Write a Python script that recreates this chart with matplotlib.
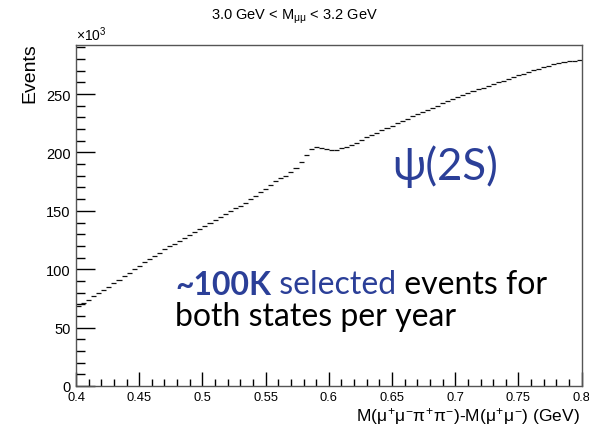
import numpy as np
import matplotlib
matplotlib.use("Agg")
import matplotlib.pyplot as plt
from matplotlib.ticker import MultipleLocator, FuncFormatter

plt.rcParams['font.family'] = ['Liberation Sans', 'DejaVu Sans']
plt.rcParams['mathtext.fontset'] = 'custom'
plt.rcParams['mathtext.rm'] = 'Liberation Sans'
plt.rcParams['mathtext.it'] = 'Liberation Sans'
plt.rcParams['mathtext.bf'] = 'Liberation Sans:bold'

# Histogram: M(mu mu pi pi) - M(mu mu), 100 bins from 0.40 to 0.80 GeV
bin_lo = 0.40
bin_hi = 0.80
n_bins = 100

# Events per bin, in units of 10^3
events_k = [
    68.5, 71.0, 74.0, 77.0, 79.5, 82.0, 85.0, 88.0, 91.0, 94.0,
    97.0, 100.0, 103.0, 106.0, 108.5, 111.0, 114.0, 117.0, 119.5, 122.0,
    124.5, 127.0, 129.5, 132.0, 134.5, 137.0, 139.5, 142.0, 144.5, 147.0,
    149.5, 152.0, 154.5, 157.0, 160.0, 163.0, 166.0, 169.0, 172.0, 175.5,
    178.0, 180.0, 183.0, 187.0, 192.0, 198.0, 203.0, 205.0, 204.0, 203.0,
    202.0, 202.5, 203.5, 205.0, 206.5, 208.5, 211.0, 213.0, 215.0, 217.0,
    219.0, 221.0, 223.0, 225.0, 227.0, 229.0, 231.0, 232.5, 234.5, 236.5,
    238.0, 240.0, 242.0, 244.0, 245.5, 247.5, 249.0, 251.0, 252.5, 254.0,
    255.5, 257.0, 258.5, 260.0, 261.5, 263.0, 264.5, 266.0, 267.5, 269.0,
    270.5, 271.5, 273.0, 274.0, 275.5, 276.5, 277.5, 278.0, 278.5, 279.5,
]

title_text = r"3.0 GeV < M$_{\mu\mu}$ < 3.2 GeV"
xlabel_text = r"M($\mu^{+}\mu^{-}\pi^{+}\pi^{-}$)-M($\mu^{+}\mu^{-}$) (GeV)"
ylabel_text = "Events"

edges = np.linspace(bin_lo, bin_hi, n_bins + 1)
vals = np.array(events_k)

fig = plt.figure(figsize=(5.89, 4.31), dpi=100)
ax = fig.add_axes([76 / 589, 1 - 387 / 431, (581.7 - 76) / 589, (387 - 46) / 431])

ax.hlines(vals, edges[:-1], edges[1:], colors='#111111', lw=0.9)

ax.set_xlim(bin_lo, bin_hi)
ax.set_ylim(0, 292)

ax.xaxis.set_major_locator(MultipleLocator(0.05))
ax.xaxis.set_minor_locator(MultipleLocator(0.01))
ax.yaxis.set_major_locator(MultipleLocator(50))
ax.yaxis.set_minor_locator(MultipleLocator(10))
ax.xaxis.set_major_formatter(FuncFormatter(lambda v, p: f"{v:g}"))
ax.yaxis.set_major_formatter(FuncFormatter(lambda v, p: f"{v:g}"))

ax.tick_params(axis='x', which='major', direction='in', length=10, width=1, pad=3.5, labelsize=9.3, top=False)
ax.tick_params(axis='x', which='minor', direction='in', length=5, width=1, top=False)
ax.tick_params(axis='y', which='major', direction='in', length=14, width=1, pad=4, labelsize=10.5, right=False)
ax.tick_params(axis='y', which='minor', direction='in', length=6.5, width=1, right=False)

for s in ax.spines.values():
    s.set_color('#555555')
    s.set_linewidth(1.0)

fig.text(0.5, 1 - 17 / 431, title_text, ha='center', va='center', fontsize=10.5)
fig.text(580 / 589, 1 - 421 / 431, xlabel_text, ha='right', va='baseline', fontsize=12.5)
fig.text(30 / 589, 1 - 43 / 431, ylabel_text, ha='center', va='top', rotation=90, fontsize=14)
fig.text(76 / 589, 1 - 44 / 431, r"$\times$10$^{3}$", ha='left', va='bottom', fontsize=10)

blue = '#2b3f98'
fig.text(392 / 589, 1 - 180 / 431, "ψ(2S)", ha='left', va='baseline', fontsize=31.5,
         color=blue, family=['Lato', 'DejaVu Sans'])

t1 = fig.text(175 / 589, 1 - 295 / 431, "~100K", ha='left', va='baseline', fontsize=23,
              color=blue, family='Lato', weight='bold')
t2 = ax.annotate(" selected", xy=(1, 0), xycoords=t1, ha='left', va='bottom',
                 fontsize=23, color=blue, family='Lato')
t3 = ax.annotate(" events for", xy=(1, 0), xycoords=t2, ha='left', va='bottom',
                 fontsize=23, color='black', family='Lato')
fig.text(175 / 589, 1 - 326 / 431, "both states per year", ha='left', va='baseline',
         fontsize=23, color='black', family='Lato')

fig.savefig("out.png", dpi=100)
